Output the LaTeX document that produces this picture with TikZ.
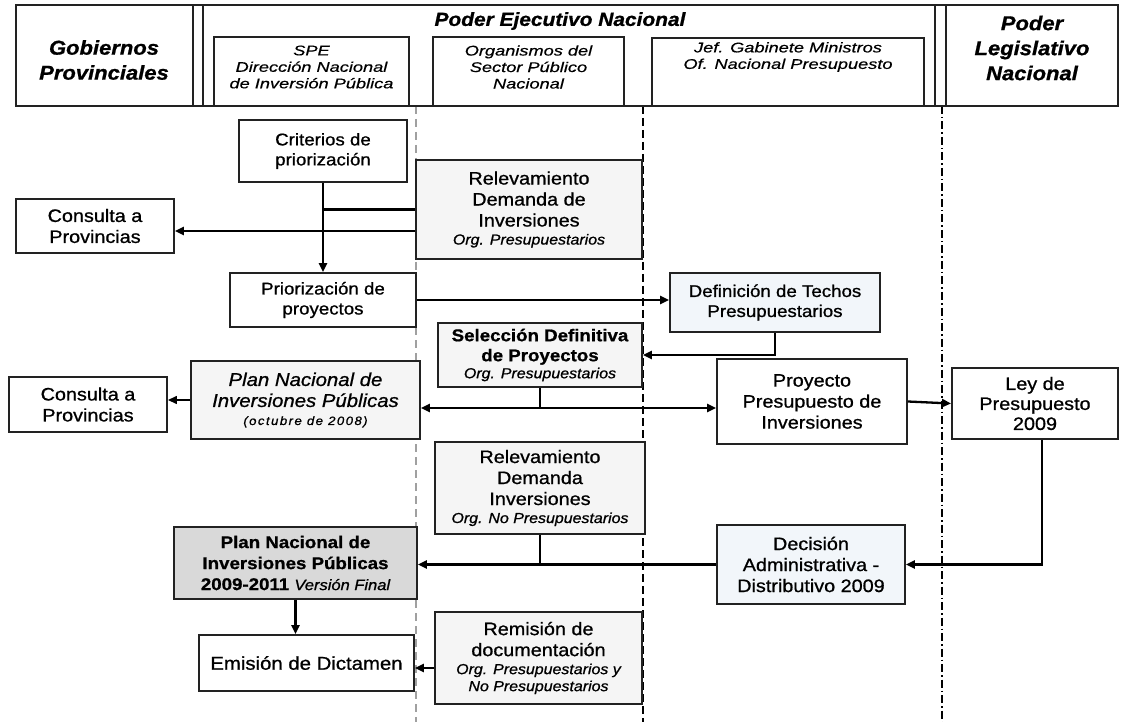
\documentclass[tikz,border=0pt]{standalone}
\usepackage{fontspec}
\setmainfont[FakeStretch=1.1,FakeBold=0.9]{Liberation Sans}
\newfontfamily\hfont[FakeStretch=1.3,FakeBold=0.5]{Liberation Sans}
\usetikzlibrary{arrows.meta}
\definecolor{bordc}{HTML}{222222}
\definecolor{softfill}{HTML}{F5F5F5}
\definecolor{bluefill}{HTML}{F2F6FA}
\definecolor{planfill}{HTML}{D9D9D9}
\definecolor{lanegray}{HTML}{A0A0A0}
\newcommand\fsz[2]{\fontsize{#1}{#2}\selectfont}
\newcommand\sublab[1]{{\fsz{14.5}{17}\itshape #1}}
\begin{document}
\begin{tikzpicture}[x=1pt,y=-1pt,
  box/.style={draw=bordc,line width=1.9pt,align=center,inner sep=0pt,font=\fsz{18}{21}},
  hbox/.style={draw=bordc,line width=1.3pt,align=center,inner sep=0pt},
  htext/.style={align=center,inner sep=0pt,font=\hfont\itshape\fsz{14}{16.5}},
  ttext/.style={align=center,inner sep=0pt,font=\fsz{20}{25}\bfseries\itshape},
  hline/.style={draw=bordc,line width=1.3pt},
  ln/.style={draw=black,line width=2.3pt},
  arr/.style={ln,-{Triangle[length=9pt,width=8pt]}},
  soft/.style={fill=softfill},
  bluish/.style={fill=bluefill}
]
\useasboundingbox (0,0) rectangle (1125,722);
\fill[white] (0,0) rectangle (1125,722);

% swim lanes
\draw[lanegray,line width=1.3pt,dash pattern=on 8pt off 5pt] (416,106) -- (416,722);
\draw[black,line width=1.1pt,dash pattern=on 8pt off 4pt] (643,106) -- (643,722);
\draw[black,line width=1.1pt,dash pattern=on 8pt off 3pt on 1.5pt off 3pt] (942,106) -- (942,722);

% header frame
\draw[hline] (16,5) rectangle (1118,106);
\draw[hline] (193,5) -- (193,106);
\draw[hline] (203,5) -- (203,106);
\draw[hline] (935,5) -- (935,106);
\draw[hline] (946,5) -- (946,106);

\node[ttext] (gob) at (104,60) {Gobiernos\\Provinciales};
\node[ttext,font=\fsz{19}{22}\bfseries\itshape] (pen) at (560,21) {Poder Ejecutivo Nacional};
\node[ttext] (leg) at (1032,48) {Poder\\Legislativo\\Nacional};

\node[hbox,minimum width=195pt,minimum height=69pt] (spe) at (311.5,71.5) {};
\node[htext] (speT) at (311.5,67) {SPE\\Dirección Nacional\\de Inversión Pública};
\node[hbox,minimum width=191pt,minimum height=69pt] (org) at (528.5,71.5) {};
\node[htext] (orgT) at (528.5,67) {Organismos del\\Sector Público\\Nacional};
\node[hbox,minimum width=272pt,minimum height=68pt] (jef) at (788,72) {};
\node[htext] (jefT) at (788,57) {Jef. Gabinete Ministros\\Of. Nacional Presupuesto};

% process boxes
\node[box,fill=white,font=\fsz{17}{20},minimum width=168pt,minimum height=62pt] (crit) at (323,151) {Criterios de\\priorización};
\node[box,soft,minimum width=226pt,minimum height=99pt] (rel1) at (529,209.5) {Relevamiento\\Demanda de\\Inversiones\\[-3pt]\sublab{Org. Presupuestarios}};
\node[box,fill=white,minimum width=158pt,minimum height=54pt] (cons1) at (95,226) {Consulta a\\Provincias};
\node[box,fill=white,font=\fsz{17}{20},minimum width=186pt,minimum height=54pt] (prio) at (323,300) {Priorización de\\proyectos};
\node[box,bluish,font=\fsz{17}{20},minimum width=210pt,minimum height=59pt] (techo) at (775,302.5) {Definición de Techos\\Presupuestarios};
\node[box,soft,font=\fsz{17}{20}\bfseries,minimum width=204pt,minimum height=64pt] (sel) at (540,355) {Selección Definitiva\\de Proyectos\\[-3pt]{\mdseries\sublab{Org. Presupuestarios}}};
\node[box,soft,font=\fsz{18.5}{21}\itshape,minimum width=229pt,minimum height=78pt] (plan1) at (305.5,400) {Plan Nacional de\\Inversiones Públicas\\[-3pt]{\fsz{12}{14}\addfontfeature{LetterSpace=12}(octubre de 2008)}};
\node[box,fill=white,minimum width=158pt,minimum height=55pt] (cons2) at (88,404.5) {Consulta a\\Provincias};
\node[box,fill=white,minimum width=190pt,minimum height=85pt] (proy) at (812,401.5) {Proyecto\\Presupuesto de\\Inversiones};
\node[box,fill=white,font=\fsz{18}{20},minimum width=166pt,minimum height=71pt] (ley) at (1035,403.5) {Ley de\\Presupuesto\\2009};
\node[box,soft,minimum width=210pt,minimum height=92pt] (rel2) at (540,488) {Relevamiento\\Demanda\\Inversiones\\[-3pt]\sublab{Org. No Presupuestarios}};
\node[box,fill=planfill,font=\fsz{17}{21}\bfseries,minimum width=243pt,minimum height=72pt] (planF) at (295.5,563) {Plan Nacional de\\Inversiones Públicas\\2009-2011 {\mdseries\itshape\fsz{15}{21}Versión Final}};
\node[box,bluish,minimum width=188pt,minimum height=79pt] (dec) at (811,564.5) {Decisión\\Administrativa -\\Distributivo 2009};
\node[box,fill=white,font=\fsz{18.5}{21},minimum width=215pt,minimum height=56pt] (emi) at (306.5,663) {Emisión de Dictamen};
\node[box,soft,minimum width=207pt,minimum height=92pt] (rem) at (538.5,658) {Remisión de\\documentación\\[-3pt]\sublab{Org. Presupuestarios y}\\[-4pt]\sublab{No Presupuestarios}};

% connectors
\draw[arr] (crit.south) -- (prio.north);
\draw[ln] (rel1.west) -- (rel1.west -| crit.south);
\coordinate (c1) at (416,231);
\draw[arr] (c1 -| rel1.west) -- (c1 -| cons1.east);
\draw[arr] (prio.east) -- (prio.east -| techo.west);
\draw[arr] (techo.south) |- (sel.east);
\coordinate (sj) at (540,408);
\draw[ln] (sel.south) -- (sj);
\draw[arr] (sj) -- (sj -| plan1.east);
\draw[arr] (sj) -- (sj -| proy.west);
\draw[arr,line width=1.4pt] (plan1.west) -- (plan1.west -| cons2.east);
\draw[arr] (proy.east) -- (ley.west);
\draw[arr] ([xshift=7pt]ley.south) |- (dec.east);
\draw[arr] (dec.west) -- (dec.west -| planF.east);
\draw[ln] (rel2.south) -- (rel2.south |- dec.west);
\draw[arr] (planF.south) -- (planF.south |- emi.north);
\coordinate (c2) at (420,668);
\draw[arr] (c2 -| rem.west) -- (c2 -| emi.east);
\end{tikzpicture}
\end{document}
